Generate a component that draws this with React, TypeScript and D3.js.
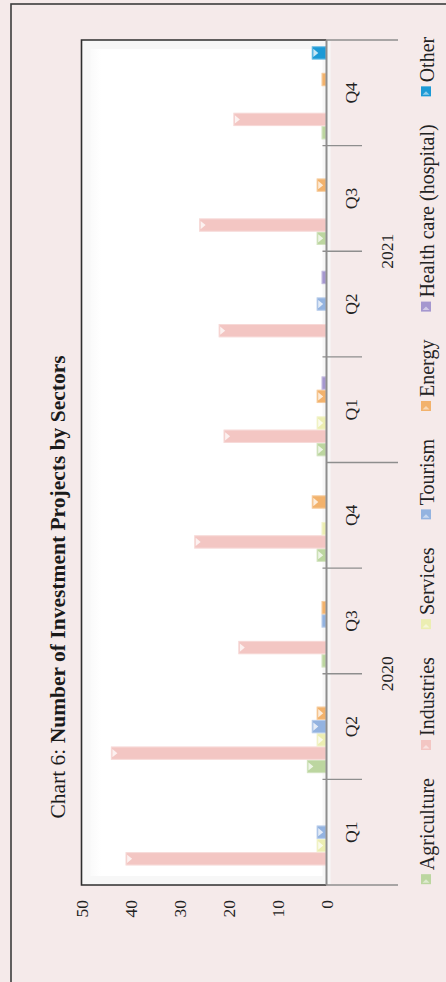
import React from "react";
import * as d3 from "d3";

const quarters = ["Q1", "Q2", "Q3", "Q4", "Q1", "Q2", "Q3", "Q4"];
const years = ["2020", "2021"];
const seriesNames = ["Agriculture", "Industries", "Services", "Tourism", "Energy", "Health care (hospital)", "Other"];
const agriculture = [0, 4, 1, 2, 2, 0, 2, 1];
const industries = [41, 44, 18, 27, 21, 22, 26, 19];
const services = [2, 2, 0, 1, 2, 0, 0, 0];
const tourism = [2, 3, 1, 0, 0, 2, 0, 0];
const energy = [0, 2, 1, 3, 2, 0, 2, 1];
const health = [0, 0, 0, 0, 1, 1, 0, 0];
const other = [0, 0, 0, 0, 0, 0, 0, 3];
const yTicks = [0, 10, 20, 30, 40, 50];
const colors = ["#bcd6a0", "#f3c6c3", "#eceeb2", "#93b3e0", "#f2b26c", "#a597cf", "#1c9ad6"];

const seriesValues = [agriculture, industries, services, tourism, energy, health, other];

const FONT = "'Liberation Serif', 'Times New Roman', serif";

function measure(text: string, size: number, weight = "normal") {
  const c = document.createElement("canvas").getContext("2d");
  if (!c) return text.length * size * 0.45;
  c.font = `${weight} ${size}px 'Liberation Serif'`;
  return c.measureText(text).width;
}

export default function App() {
  const W = 446, H = 982;
  const UW = 982, UH = 446;
  const left = 97, right = 942, top = 81.5, bottom = 326.5;

  const y = d3.scaleLinear().domain([0, 50]).range([bottom, top]);
  const x0 = d3.scaleBand<number>().domain(d3.range(quarters.length)).range([left, right]).padding(0);
  const x1 = d3.scaleBand<string>().domain(seriesNames).range([0, x0.bandwidth()]).paddingInner(0).paddingOuter(0.47);

  // legend layout
  const legendSize = 20;
  const markerSize = 10;
  const markerGap = 4;
  const itemSpacing = 28;
  const widths = seriesNames.map((s) => markerSize + markerGap + measure(s, legendSize));
  const total = d3.sum(widths) + itemSpacing * (seriesNames.length - 1);
  let cursor = (left + right) / 2 + 2 - total / 2;
  const legendX = widths.map((w) => {
    const p = cursor;
    cursor += w + itemSpacing;
    return p;
  });

  const boundaries = d3.range(quarters.length + 1);

  return (
    <svg width={W} height={H} style={{ position: "absolute", left: 0, top: 0 }} fontFamily={FONT}>
      <defs>
        <linearGradient id="plotShade" x1="0" y1="0" x2="0" y2="1">
          <stop offset="0" stopColor="#f6f6f6" />
          <stop offset="0.08" stopColor="#ffffff" />
          <stop offset="1" stopColor="#ffffff" />
        </linearGradient>
      </defs>
      <rect x={0} y={0} width={W} height={H} fill="#f5eaea" />
      <g transform={`translate(0,${H}) rotate(-90)`}>
        {/* chart border */}
        <rect x={-10} y={11} width={988} height={UH} fill="none" stroke="#3c3c3c" strokeWidth={1.6} />
        {/* title */}
        <text x={395} y={65} textAnchor="middle" fontSize={21.5} fill="#1a1a1a">
          <tspan>Chart 6: </tspan>
          <tspan fontWeight="bold">Number of Investment Projects by Sectors</tspan>
        </text>
        {/* plot area */}
        <rect x={left} y={top} width={right - left} height={bottom - top} fill="url(#plotShade)" />
        <rect x={left + 5} y={top + 5} width={right - left - 10} height={bottom - top - 5} fill="none" stroke="#f7f7f7" strokeWidth={8} />
        <path d={`M${left},${bottom} V${top} H${right} V${bottom}`} fill="none" stroke="#2e2e2e" strokeWidth={1.6} />
        {/* bars */}
        {seriesValues.map((vals, si) => (
          <g key={si}>
            {vals.map((v, ci) => {
              if (v <= 0) return null;
              const bx = (x0(ci) as number) + (x1(seriesNames[si]) as number);
              const bw = x1.bandwidth();
              const by = y(v);
              const bh = y(0) - by;
              return (
                <g key={ci}>
                  <rect x={bx} y={by} width={bw} height={bh} fill={colors[si]} />
                  <rect x={bx + 0.5} y={by + 0.5} width={bw - 1} height={bh - 1} fill="none" stroke="#ffffff" strokeOpacity={0.35} strokeWidth={1} />
                  {bh > 7 && (
                    <path
                      d={`M${bx + 2.5},${by + 1.5} L${bx + bw - 2.5},${by + 1.5} L${bx + bw / 2},${by + 6.5} Z`}
                      fill="#ffffff"
                      fillOpacity={0.75}
                    />
                  )}
                </g>
              );
            })}
          </g>
        ))}
        {/* value axis labels */}
        {yTicks.map((t) => (
          <text key={t} x={82} y={y(t)} dy="0.35em" textAnchor="end" fontSize={17.5} fill="#222">
            {t}
          </text>
        ))}
        {/* category axis */}
        <line x1={left} x2={right} y1={bottom} y2={bottom} stroke="#8e8e8e" strokeWidth={2} />
        {boundaries.map((i) => {
          const bx = i < quarters.length ? (x0(i) as number) : right;
          const long = i % 4 === 0;
          return (
            <line key={i} x1={bx} x2={bx} y1={long ? bottom : bottom - 4} y2={long ? 398 : 362} stroke="#8e8e8e" strokeWidth={1.3} />
          );
        })}
        {quarters.map((q, i) => (
          <text key={i} x={(x0(i) as number) + x0.bandwidth() / 2} y={357} textAnchor="middle" fontSize={17.5} fill="#222">
            {q}
          </text>
        ))}
        {years.map((yr, i) => (
          <text key={yr} x={(x0(i * 4) as number) + x0.bandwidth() * 2} y={393} textAnchor="middle" fontSize={17.5} fill="#222">
            {yr}
          </text>
        ))}
        {/* legend */}
        {seriesNames.map((s, i) => (
          <g key={s} transform={`translate(${legendX[i]},0)`}>
            <rect x={0} y={421} width={markerSize} height={markerSize} fill={colors[i]} />
            <path d={`M1.5,422.5 L1.5,${421 + markerSize - 1.5} L${markerSize / 2},426`} fill="#ffffff" fillOpacity={0.5} />
            <text x={markerSize + markerGap} y={434} fontSize={legendSize} fill="#222">
              {s}
            </text>
          </g>
        ))}
      </g>
    </svg>
  );
}
